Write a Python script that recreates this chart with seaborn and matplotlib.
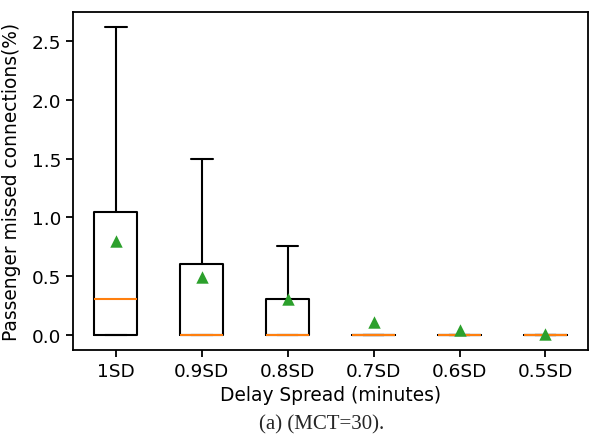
import pandas as pd
import numpy as np
import matplotlib
matplotlib.use('Agg')
import matplotlib.pyplot as plt
import seaborn as sns
sns.set_style('ticks')
plt.rcParams['font.family'] = ['DejaVu Sans']

labels = ['1SD', '0.9SD', '0.8SD', '0.7SD', '0.6SD', '0.5SD']
q1 = [0.0, 0.0, 0.0, 0.0, 0.0, 0.0]
med = [0.30, 0.0, 0.0, 0.0, 0.0, 0.0]
q3 = [1.05, 0.60, 0.30, 0.0, 0.0, 0.0]
whishi = [2.62, 1.50, 0.76, 0.0, 0.0, 0.0]
whislo = [0.0, 0.0, 0.0, 0.0, 0.0, 0.0]
means = [0.80, 0.49, 0.30, 0.11, 0.04, 0.01]

stats = []
for i in range(len(labels)):
    stats.append({'label': labels[i], 'q1': q1[i], 'med': med[i], 'q3': q3[i],
                  'whislo': whislo[i], 'whishi': whishi[i], 'mean': means[i], 'fliers': []})

lw = 1.5
fig = plt.figure(figsize=(5.91, 4.35), dpi=100)
ax = fig.add_axes([0.1235, 0.193, 0.872, 0.777])
ax.bxp(stats, showmeans=False,
       boxprops={'color': 'black', 'linewidth': lw},
       whiskerprops={'color': 'black', 'linewidth': lw},
       capprops={'color': 'black', 'linewidth': lw},
       medianprops={'color': '#ff7f0e', 'linewidth': lw})

df = pd.DataFrame({'pos': np.arange(1, len(labels) + 1), 'mean': means})
sns.scatterplot(data=df, x='pos', y='mean', marker='^', color='#2ca02c', s=80,
                edgecolor='#2ca02c', linewidth=0, ax=ax, zorder=3)
ax.set_xlim(0.5, 6.5)
ax.set_ylim(-0.131, 2.751)
ax.set_xticks(df['pos'])
ax.set_xticklabels(labels)
for s in ax.spines.values():
    s.set_color('black')
    s.set_linewidth(1.3)
ax.tick_params(labelsize=13.3, colors='black', length=5, width=1.3)
ax.set_xlabel('Delay Spread (minutes)', fontsize=13.4, color='black')
ax.set_ylabel('Passenger missed connections(%)', fontsize=13.4, color='black')
ax.yaxis.set_label_coords(-0.100, 0.5)
fig.text(0.545, 0.002, '(a) (MCT=30).', fontsize=15, family='Liberation Serif',
         ha='center', va='bottom')
fig.savefig('out.png', dpi=100)
